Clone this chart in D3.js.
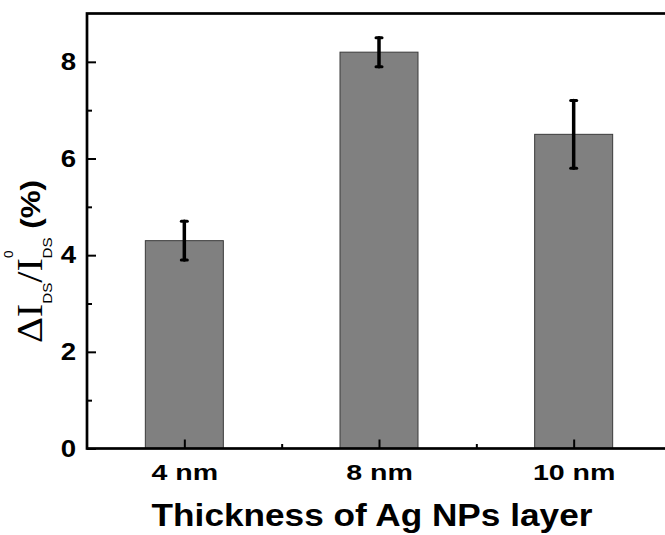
<!DOCTYPE html>
<html>
<head>
<meta charset="utf-8">
<script src="https://cdn.jsdelivr.net/npm/d3@7"></script>
<style>
  body { margin: 0; background: #fff; }
  svg { display: block; }
</style>
</head>
<body>
<svg id="chart" width="665" height="535"></svg>
<script>
// data
const categories = ['4 nm', '8 nm', '10 nm'];
const values = [4.3, 8.2, 6.5];
const errLow = [3.9, 7.9, 5.8];
const errHigh = [4.7, 8.5, 7.2];
const yTicks = [0, 2, 4, 6, 8];
const yMinor = [1, 3, 5, 7];

const svg = d3.select('#chart');
const padL = 87, padR = 671, padT = 13.5, padB = 448.5;

// categories sit at 1,2,3 on a linear scale so the frame runs past the image edge
const x = d3.scaleLinear().domain([0.5, 3.5]).range([padL, padR]);
const y = d3.scaleLinear().domain([0, 9]).range([padB, padT]);
const barW = 78;

const sans = 'Liberation Sans, Arial, sans-serif';
const serif = 'Liberation Serif, Times New Roman, serif';

// the original text is drawn a bit wider than plain Arial, stretch it
function widen(sel, k) {
  sel.each(function() {
    const w = this.getComputedTextLength();
    d3.select(this).attr('textLength', w * k).attr('lengthAdjust', 'spacingAndGlyphs');
  });
}

// bars
svg.selectAll('rect.bar')
    .data(values)
    .enter()
    .append('rect')
    .attr('class', 'bar')
    .attr('x', (d, i) => x(i + 1) - barW / 2)
    .attr('y', d => y(d))
    .attr('width', barW)
    .attr('height', d => y(0) - y(d))
    .attr('fill', '#808080')
    .attr('stroke', '#3a3a3a')
    .attr('stroke-width', 1);

// error bars
const eb = svg.selectAll('g.err')
    .data(values)
    .enter()
    .append('g')
    .attr('class', 'err')
    .attr('stroke', '#000')
    .attr('stroke-linecap', 'round');
eb.append('line')
    .attr('x1', (d, i) => x(i + 1)).attr('x2', (d, i) => x(i + 1))
    .attr('y1', (d, i) => y(errLow[i])).attr('y2', (d, i) => y(errHigh[i]))
    .attr('stroke-width', 3.5);
eb.append('line')
    .attr('x1', (d, i) => x(i + 1) - 3).attr('x2', (d, i) => x(i + 1) + 3)
    .attr('y1', (d, i) => y(errHigh[i])).attr('y2', (d, i) => y(errHigh[i]))
    .attr('stroke-width', 3);
eb.append('line')
    .attr('x1', (d, i) => x(i + 1) - 3).attr('x2', (d, i) => x(i + 1) + 3)
    .attr('y1', (d, i) => y(errLow[i])).attr('y2', (d, i) => y(errLow[i]))
    .attr('stroke-width', 3);

// y axis
const yAxis = svg.append('g')
    .attr('transform', `translate(${padL},0)`)
    .call(d3.axisLeft(y).tickValues(yTicks).tickFormat(d3.format('d'))
        .tickSizeInner(-9).tickSizeOuter(0).tickPadding(11));
svg.append('g')
    .attr('transform', `translate(${padL},0)`)
    .call(d3.axisLeft(y).tickValues(yMinor).tickFormat('')
        .tickSizeInner(-5).tickSizeOuter(0))
    .select('.domain').remove();

// x axis
const xAxis = svg.append('g')
    .attr('transform', `translate(0,${padB})`)
    .call(d3.axisBottom(x).tickValues([1, 2, 3]).tickFormat((d, i) => categories[i])
        .tickSizeInner(-9).tickSizeOuter(0).tickPadding(15.5));
svg.append('g')
    .attr('transform', `translate(0,${padB})`)
    .call(d3.axisBottom(x).tickValues([1.5, 2.5, 3.5]).tickFormat('')
        .tickSizeInner(-4.5).tickSizeOuter(0))
    .select('.domain').remove();

svg.selectAll('.tick line').attr('stroke', '#000').attr('stroke-width', 2);
yAxis.selectAll('.tick text').attr('font-family', sans).attr('font-weight', 'bold')
    .attr('font-size', 24).attr('fill', '#000')
    .call(widen, 1.15);
xAxis.selectAll('.tick text').attr('font-family', sans).attr('font-weight', 'bold')
    .attr('font-size', 22.5).attr('fill', '#000')
    .call(widen, 1.27);

// frame
svg.selectAll('.domain').remove();
svg.append('rect')
    .attr('x', padL).attr('y', padT)
    .attr('width', padR - padL).attr('height', padB - padT)
    .attr('fill', 'none').attr('stroke', '#000').attr('stroke-width', 2.7);

// x title
svg.append('text')
    .attr('x', 372).attr('y', 526)
    .attr('text-anchor', 'middle')
    .attr('font-family', sans).attr('font-weight', 'bold').attr('font-size', 32)
    .text('Thickness of Ag NPs layer')
    .call(widen, 1.1);

// y title
const yt = svg.append('text')
    .attr('transform', 'translate(42,261.5) rotate(-90) scale(1.12,1)')
    .attr('text-anchor', 'middle')
    .attr('font-family', serif).attr('font-size', 36).attr('fill', '#000');
yt.append('tspan').text('\u0394I');
yt.append('tspan').attr('font-family', sans).attr('font-size', 13.5).attr('dy', 10).text('DS');
yt.append('tspan').attr('dy', -10).text('/I');
yt.append('tspan').attr('font-family', sans).attr('font-size', 12).attr('dy', -29).text('0');
yt.append('tspan').attr('font-family', sans).attr('font-size', 13.5).attr('dx', -7).attr('dy', 39).text('DS');
yt.append('tspan').attr('font-family', sans).attr('font-weight', 'bold').attr('font-size', 28)
    .attr('dy', -12).text(' (%)');
</script>
</body>
</html>
